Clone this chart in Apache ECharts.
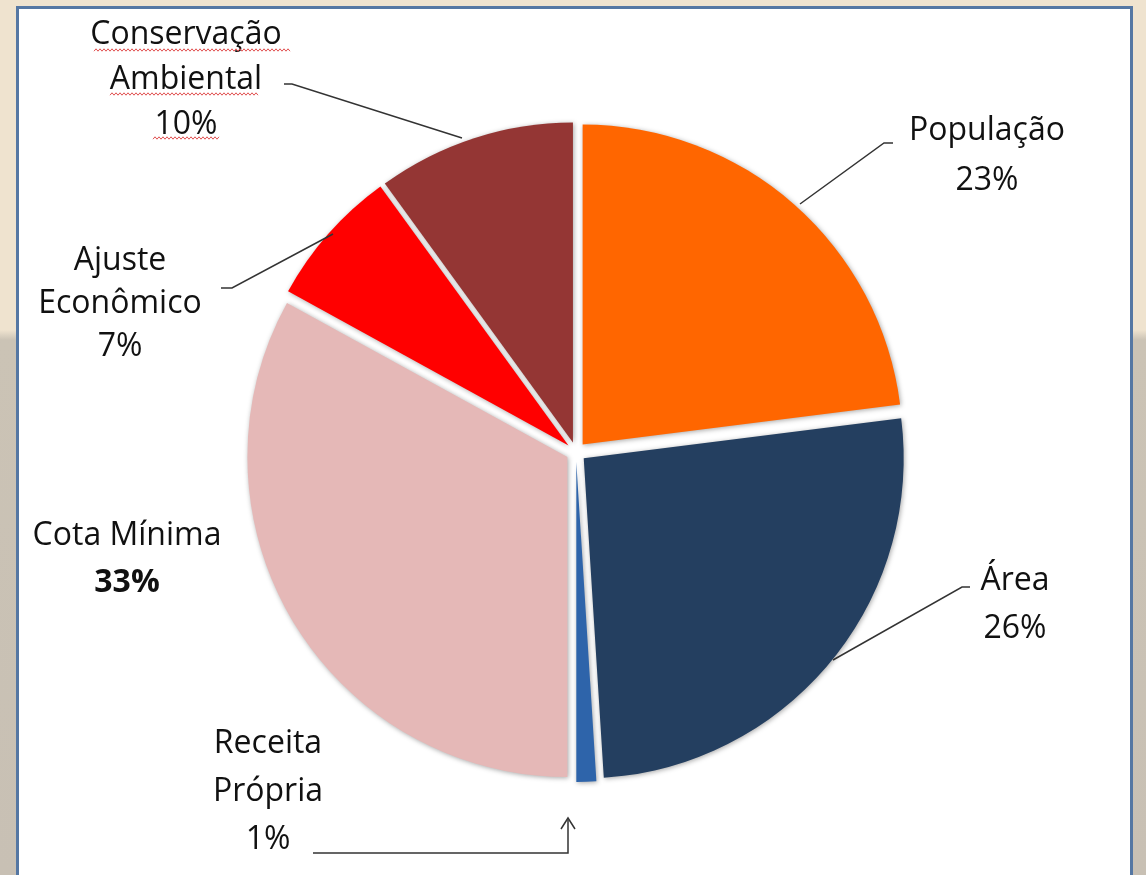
<!DOCTYPE html>
<html>
<head>
<meta charset="UTF-8">
<title>Distribuição</title>
<script src="https://cdn.jsdelivr.net/npm/echarts@6/dist/echarts.min.js"></script>
<style>
  html, body { margin: 0; padding: 0; }
  body {
    width: 1146px; height: 875px; overflow: hidden; position: relative;
    background: linear-gradient(to bottom, #efe3cf 0px, #efe3cf 330px, #cbc3b5 340px, #c8c0b4 875px);
  }
  #frame {
    position: absolute; left: 16px; top: 6px; width: 1111px; height: 900px;
    border: 3px solid #5577a3; background: #fff;
  }
  #main { position: absolute; left: 0; top: 0; width: 1146px; height: 875px; }
</style>
</head>
<body>
<div id="frame"></div>
<div id="main"></div>
<script type="text/javascript">
// dados
var names = ['População', 'Área', 'Receita Própria', 'Cota Mínima', 'Ajuste Econômico', 'Conservação Ambiental'];
var labelText = ['População', 'Área', 'Receita\nPrópria', 'Cota Mínima', 'Ajuste\nEconômico', 'Conservação\nAmbiental'];
var values = [23, 26, 1, 33, 7, 10];
var colors = ['#ff6600', '#243f60', '#2e64aa', '#e5b8b7', '#ff0000', '#943634'];

// onde ficam os rótulos (centro do texto) e as linhas de chamada
var labelPos = [[987, 156], [1015, 605], [268, 792], [127, 559], [120, 304], [186, 80]];
var labelLH = [50, 48, 48, 47, 43, 45];
var linePts = [
    [[800, 204], [884, 143], [893, 143]],
    [[833, 660], [962, 587], [970, 587]],
    [[568, 820], [568, 853], [313, 853]],
    null,
    [[333, 234], [232, 288], [221, 288]],
    [[462, 138], [292, 84], [284, 84]]
];
// sublinhado ondulado do corretor (x inicial, x final, y)
var squiggles = [[94, 290, 50], [110, 258, 94], [153, 220, 138]];

var myChart = echarts.init(document.getElementById('main'));

var data = [];
for (var i = 0; i < names.length; i++) {
    data.push({
        name: names[i],
        value: values[i],
        selected: true,
        itemStyle: { color: colors[i] }
    });
}

// rótulos e linhas de chamada como no original (posições manuais)
var graphics = [];
for (var j = 0; j < names.length; j++) {
    var pct = values[j] + '%';
    var txt = labelText[j] + '\n' + (j === 3 ? '{b|' + pct + '}' : pct);
    graphics.push({
        type: 'text',
        z: 10,
        style: {
            text: txt,
            x: labelPos[j][0],
            y: labelPos[j][1],
            align: 'center',
            verticalAlign: 'middle',
            fill: '#111',
            fontFamily: 'Open Sans',
            fontSize: 32,
            lineHeight: labelLH[j],
            rich: {
                b: { fontWeight: 'bold', fontFamily: 'Open Sans', fontSize: 32, lineHeight: labelLH[j], fill: '#111' }
            }
        }
    });
    if (linePts[j]) {
        graphics.push({
            type: 'polyline',
            z: 10,
            shape: { points: linePts[j] },
            style: { stroke: '#333', lineWidth: 1.5, fill: null }
        });
    }
}
// ponta da seta da Receita Própria
graphics.push({
    type: 'polyline',
    z: 10,
    shape: { points: [[561, 829], [568, 818], [575, 829]] },
    style: { stroke: '#333', lineWidth: 1.5, fill: null }
});
// ondinhas vermelhas
squiggles.forEach(function (s) {
    var pts = [];
    for (var x = s[0], k = 0; x <= s[1]; x += 2, k++) {
        pts.push([x, s[2] + (k % 2 ? -1.2 : 1.2)]);
    }
    graphics.push({
        type: 'polyline',
        z: 10,
        shape: { points: pts },
        style: { stroke: '#e05050', lineWidth: 1, fill: null }
    });
});

option = {
    animation: false,
    series: [{
        type: 'pie',
        center: [576, 452],
        radius: 320,
        startAngle: 90,
        clockwise: true,
        selectedMode: 'multiple',
        selectedOffset: 10,
        emphasis: { disabled: true },
        itemStyle: {
            shadowBlur: 5,
            shadowColor: 'rgba(0,0,0,0.35)',
            shadowOffsetX: 1,
            shadowOffsetY: 1
        },
        label: { show: false },
        labelLine: { show: false },
        data: data
    }],
    graphic: graphics
};

myChart.setOption(option);
</script>
</body>
</html>
